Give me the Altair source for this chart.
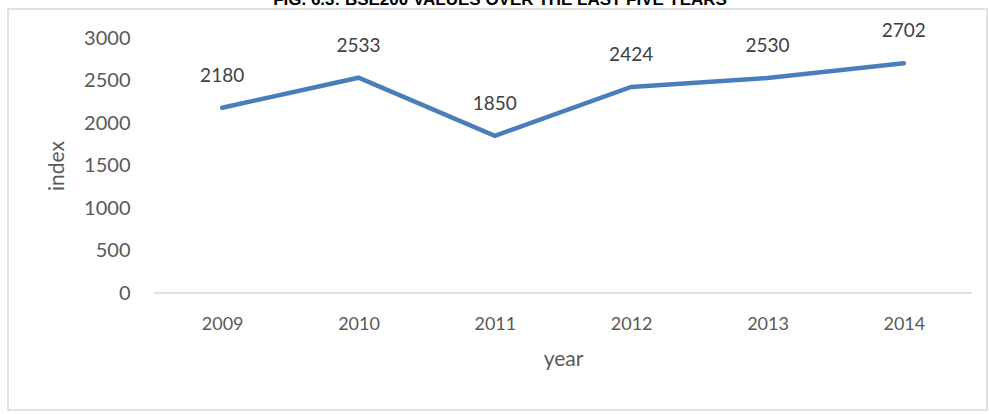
import altair as alt
import pandas as pd

years = ["2009", "2010", "2011", "2012", "2013", "2014"]
values = [2180, 2533, 1850, 2424, 2530, 2702]
y_ticks = [0, 500, 1000, 1500, 2000, 2500, 3000]
title_text = "FIG. 6.3: BSE200 VALUES OVER THE LAST FIVE YEARS"

df = pd.DataFrame({"year": years, "index": values})

FONT = "Lato"
PL, PT = 154, 38
W, H = 818, 255

x_enc = alt.X("year:N", sort=years, scale=alt.Scale(paddingInner=0, paddingOuter=0.5),
              axis=alt.Axis(title="year", labelAngle=0, ticks=False, domain=False, grid=False,
                            labelFontSize=18, labelColor="#595959", labelFont=FONT, labelPadding=22,
                            titleFontSize=21, titleColor="#595959", titleFont=FONT,
                            titleFontWeight="normal", titlePadding=15))
y_enc = alt.Y("index:Q", scale=alt.Scale(domain=[0, 3000], nice=False),
              axis=alt.Axis(title="index", values=y_ticks, format="d", ticks=False, domain=False, grid=False,
                            labelFontSize=20, labelColor="#595959", labelFont=FONT, labelPadding=24,
                            titleFontSize=21, titleColor="#595959", titleFont=FONT,
                            titleFontWeight="normal", titlePadding=16))

base = alt.Chart(df)

line = base.mark_line(color="#4a7ebb", strokeWidth=4.5, strokeCap="round", strokeJoin="miter").encode(
    x=x_enc, y=y_enc)

labels = base.mark_text(dy=-26, fontSize=19, font=FONT, color="#404040", baseline="alphabetic").encode(
    x=alt.X("year:N", sort=years), y="index:Q", text="index:Q")

zero_rule = alt.Chart(pd.DataFrame({"z": [0]})).mark_rule(color="#d9d9d9", strokeWidth=1.5).encode(
    y="z:Q", x=alt.value(0), x2=alt.value(W))

frame = alt.Chart(pd.DataFrame({"t": [title_text]})).mark_rect(
    fill=None, stroke="#d9d9d9", strokeWidth=1.5).encode(
    x=alt.value(8 - PL), x2=alt.value(987 - PL), y=alt.value(9 - PT), y2=alt.value(410 - PT))

title = alt.Chart(pd.DataFrame({"t": [title_text]})).mark_text(
    font="Liberation Sans", fontSize=17, fontWeight="bold", color="#000000",
    align="center", baseline="alphabetic").encode(
    x=alt.value(500 - PL), y=alt.value(5 - PT), text="t:N")

chart = alt.layer(frame, zero_rule, line, labels, title).properties(
    width=W, height=H,
    background="white",
    autosize=alt.AutoSizeParams(type="none"),
    padding={"left": PL, "top": PT, "right": 989 - PL - W, "bottom": 414 - PT - H},
).configure_view(strokeWidth=0, stroke="transparent")

chart.save("out.html", embed_options={"renderer": "svg", "actions": False})
